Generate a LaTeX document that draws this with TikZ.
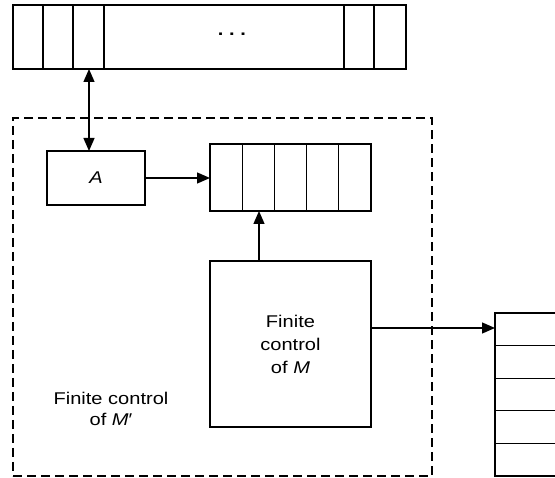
\documentclass[tikz,border=0pt]{standalone}
\usepackage{fontspec}
\setmainfont{Liberation Sans}[FakeStretch=1.18]
\usepackage{tikz}
\usetikzlibrary{arrows.meta,positioning,calc}
\tikzset{
  cellbox/.style = {draw, line width=1.3pt, inner sep=0pt, outer sep=0pt, align=center,
                    font=\fontsize{17}{23}\selectfont},
  frame/.style   = {draw, line width=1.2pt, dash pattern=on 9pt off 5pt, inner sep=0pt, outer sep=0pt},
  txt/.style     = {inner sep=0pt, align=center, font=\fontsize{17}{21}\selectfont},
  ar/.style      = {-{Triangle[length=13pt,width=11pt]}, line width=1.3pt},
  dar/.style     = {{Triangle[length=13pt,width=11pt]}-{Triangle[length=13pt,width=11pt]}, line width=1.3pt},
}
\begin{document}
\begin{tikzpicture}[x=1pt,y=-1pt]
  \useasboundingbox (0,0) rectangle (555,478);
  \node[cellbox, minimum width=393pt, minimum height=64pt] (tape) at (209.5,37) {};
  \foreach \x in {30,60,91,331,361}
    \draw[line width=1.3pt] ([xshift=\x pt]tape.north west) -- ([xshift=\x pt]tape.south west);
  \node[txt] (dots) at (232,34) {\textbf{.\,\,.\,\,.}};
  \node[frame, minimum width=419pt, minimum height=358pt] (fcMp) at (222.5,297) {};
  \node[txt] (lblMp) at (111,409) {Finite control\\of \textit{M}′};
  \node[cellbox, minimum width=98pt, minimum height=54pt] (A) at (96,178) {\textit{A}};
  \node[cellbox, minimum width=161pt, minimum height=67pt] (reg) at (290.5,177.5) {};
  \foreach \i in {1,...,4}
    \draw[line width=1.3pt] ([xshift=\i*32.2pt]reg.north west) -- ([xshift=\i*32.2pt]reg.south west);
  \node[cellbox, minimum width=161pt, minimum height=166pt] (fcM) at (290.5,344) {Finite\\control\\of \textit{M}};
  \node[inner sep=0pt, outer sep=0pt, minimum width=62pt, minimum height=163pt] (out) at (526,394.5) {};
  \draw[line width=1.3pt] (out.north east) -- (out.north west) -- (out.south west) -- (out.south east);
  \foreach \i in {1,...,4}
    \draw[line width=1.3pt] ([yshift=-\i*32.6pt]out.north west) -- ([yshift=-\i*32.6pt]out.north east);
  \draw[dar] ([xshift=-7pt]A.north) -- ([xshift=-7pt]A.north |- tape.south);
  \draw[ar] (A.east) -- (A.east -| reg.west);
  \draw[ar] ([xshift=-31.5pt]fcM.north) -- ([xshift=-31.5pt]fcM.north |- reg.south);
  \draw[ar] ([yshift=16pt]fcM.east) -- ([yshift=16pt]fcM.east -| out.west);
\end{tikzpicture}
\end{document}
